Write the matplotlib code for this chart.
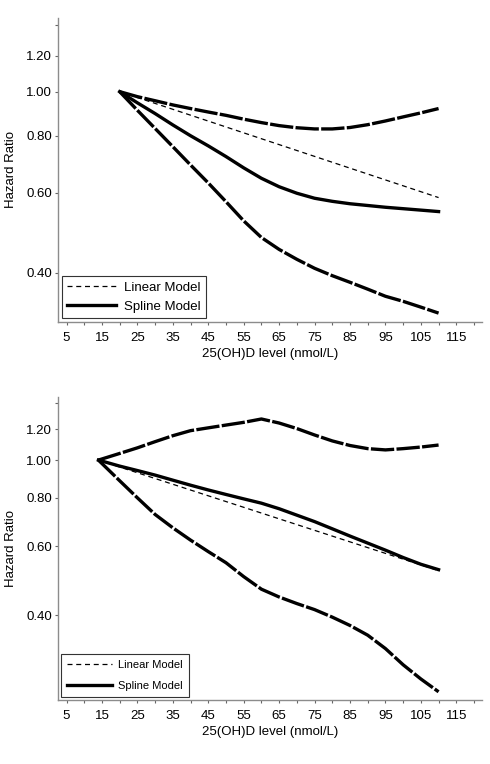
# Hazard ratio vs 25(OH)D level, linear and spline models (two panels)
import matplotlib
matplotlib.use("Agg")
import matplotlib.pyplot as plt

plt.rcParams['font.family'] = ['Liberation Sans', 'DejaVu Sans']

# ---- top panel data ----
top_x = [20, 25, 30, 35, 40, 45, 50, 55, 60, 65, 70, 75, 80, 85, 90, 95, 100, 105, 110]
top_upper = [1.0, 0.975, 0.955, 0.935, 0.918, 0.902, 0.887, 0.870, 0.855, 0.842, 0.833,
             0.828, 0.828, 0.834, 0.846, 0.862, 0.880, 0.898, 0.918]
top_spline = [1.0, 0.945, 0.895, 0.845, 0.800, 0.760, 0.720, 0.680, 0.645, 0.618, 0.598,
              0.583, 0.574, 0.567, 0.562, 0.557, 0.553, 0.549, 0.545]
top_lower = [1.0, 0.91, 0.83, 0.757, 0.69, 0.63, 0.573, 0.52, 0.478, 0.45, 0.428,
             0.409, 0.394, 0.381, 0.368, 0.355, 0.346, 0.336, 0.326]
top_lin_x = [20, 110]
top_lin = [1.0, 0.585]

# ---- bottom panel data ----
bot_x = [14, 20, 25, 30, 35, 40, 45, 50, 55, 60, 65, 70, 75, 80, 85, 90, 95, 100, 105, 110]
bot_upper = [1.0, 1.04, 1.075, 1.115, 1.155, 1.19, 1.21, 1.23, 1.25, 1.275, 1.245,
             1.205, 1.16, 1.12, 1.09, 1.07, 1.062, 1.07, 1.08, 1.093]
bot_spline = [1.0, 0.965, 0.94, 0.915, 0.888, 0.862, 0.838, 0.816, 0.795, 0.775, 0.75,
              0.722, 0.695, 0.666, 0.638, 0.612, 0.587, 0.562, 0.54, 0.523]
bot_lower = [1.0, 0.885, 0.80, 0.725, 0.67, 0.623, 0.582, 0.545, 0.502, 0.466, 0.445,
             0.428, 0.413, 0.395, 0.376, 0.355, 0.328, 0.298, 0.274, 0.254]
bot_lin_x = [14, 110]
bot_lin = [1.0, 0.52]

ytick_vals = [0.4, 0.6, 0.8, 1.0, 1.2, 1.4]
ytick_labels = ["0.40", "0.60", "0.80", "1.00", "1.20", ""]
xtick_vals = list(range(5, 116, 10))

fig = plt.figure(figsize=(4.9, 7.64), dpi=100)
ax1 = fig.add_axes([0.118, 0.5785, 0.866, 0.398])
ax2 = fig.add_axes([0.118, 0.0838, 0.866, 0.397])

ci_dash = (7, 0.7)
lin_dash = (4, 3)


def draw_panel(ax, x, upper, spline, lower, lin_x, lin, ylim, legend_font, leg_opts):
    ax.plot(x, upper, color='black', lw=2.4, dashes=ci_dash)
    ax.plot(x, lower, color='black', lw=2.4, dashes=ci_dash)
    ax.plot(lin_x, lin, color='black', lw=0.9, dashes=lin_dash, label='Linear Model')
    ax.plot(x, spline, color='black', lw=2.4, label='Spline Model')

    ax.set_yscale('log')
    ax.set_ylim(*ylim)
    ax.set_xlim(2.55, 122.3)
    ax.set_yticks(ytick_vals)
    ax.set_yticklabels(ytick_labels)
    ax.yaxis.set_minor_locator(matplotlib.ticker.NullLocator())
    ax.set_xticks(xtick_vals)
    ax.set_xticks(list(range(10, 121, 10)), minor=True)

    for s in ['top', 'right']:
        ax.spines[s].set_visible(False)
    for s in ['left', 'bottom']:
        ax.spines[s].set_color('#8c8c8c')
        ax.spines[s].set_linewidth(1.0)
    ax.tick_params(which='major', length=2.5, width=0.8, color='#666666',
                   labelsize=9.5, pad=1.5)
    ax.tick_params(axis='x', which='major', pad=4.5)
    ax.tick_params(which='minor', length=1.8, width=0.8, color='#666666')

    ax.set_ylabel("Hazard Ratio", fontsize=9.5, labelpad=7)
    ax.set_xlabel("25(OH)D level (nmol/L)", fontsize=9.5, labelpad=3)

    leg = ax.legend(loc='lower left', bbox_to_anchor=(0, 0), borderaxespad=0.3,
                    fancybox=False, framealpha=1, edgecolor='#333333',
                    prop=legend_font, **leg_opts)
    leg.get_frame().set_linewidth(0.8)


draw_panel(ax1, top_x, top_upper, top_spline, top_lower, top_lin_x, top_lin,
           (0.3116, 1.452), {'family': ['Liberation Sans'], 'size': 9.5},
           dict(handlelength=3.7, handletextpad=0.6, labelspacing=0.5, borderpad=0.4))
draw_panel(ax2, bot_x, bot_upper, bot_spline, bot_lower, bot_lin_x, bot_lin,
           (0.242, 1.455), {'family': ['Liberation Sans Narrow', 'Liberation Sans'], 'size': 8},
           dict(handlelength=4.0, handletextpad=0.6, labelspacing=0.95, borderpad=0.55))

fig.savefig("out.png", dpi=100)
